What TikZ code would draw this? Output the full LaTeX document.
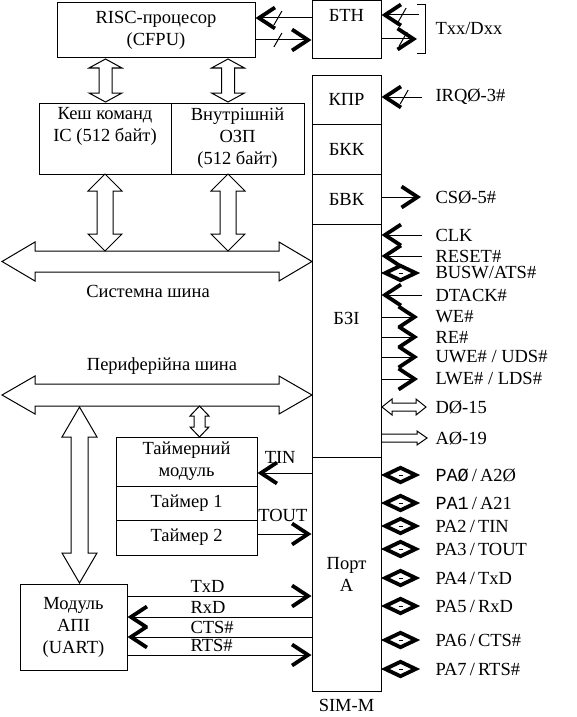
\documentclass[tikz,border=0pt]{standalone}
\usepackage{fontspec}
\setmainfont{Liberation Serif}
\setmonofont{Liberation Mono}
\usepackage{tikz}
\usetikzlibrary{arrows.meta, shapes.geometric, decorations.markings}

\tikzset{
  blk/.style={draw, inner sep=0pt, align=center},
  sig/.style={anchor=west, inner sep=0pt},
  barb/.style={-{Straight Barb[length=16pt, width=21pt, line width=3.8pt].}},
  tick/.style={postaction={decorate, decoration={markings,
      mark=at position #1 with {\draw[-] (-4pt,-7pt) -- (4pt,7pt);}}}},
  pin/.style={diamond, draw, aspect=2, line width=3.8pt, minimum width=32pt, minimum height=16pt, inner sep=0pt},
}

\begin{document}
\begin{tikzpicture}[x=1pt, y=-1pt, line width=1pt, font=\fontsize{18.5}{22}\selectfont]
\useasboundingbox (0,0) rectangle (577,717);

% processor, cache and RAM
\node[blk, minimum width=198pt, minimum height=55pt] (risc) at (156,30.5) {RISC-процесор\\(CFPU)};
\node[blk, minimum width=69pt, minimum height=58pt] (btn) at (346.5,30) {БТН\\\strut};
\node[blk, minimum width=132pt, minimum height=71pt] (cache) at (105,138.5) {Кеш команд\\IC (512 байт)\\\strut};
\node[blk, minimum width=133pt, minimum height=71pt] (ram) at (237.5,138.5) {Внутрішній\\ОЗП\\(512 байт)};

% SIM-M column
\node[blk, minimum width=69pt, minimum height=49pt] (kpr) at (346.5,99.5) {КПР};
\node[blk, minimum width=69pt, minimum height=50pt] (bkk) at (346.5,149) {БКК};
\node[blk, minimum width=69pt, minimum height=50pt] (bvk) at (346.5,199) {БВК};
\node[blk, minimum width=69pt, minimum height=233pt] (bzi) at (346.5,340.5) {};
\node[blk, minimum width=69pt, minimum height=234pt] (port) at (346.5,574) {Порт\\А};
\node (bzil) at (346.5,318) {БЗІ};
\node (simm) at (346.5,705) {SIM-M};

% timers and UART
\node[blk, minimum width=141pt, minimum height=49pt] (tmod) at (186.5,461.5) {Таймерний\\модуль};
\node[blk, minimum width=141pt, minimum height=34pt] (tm1) at (186.5,503) {Таймер 1};
\node[blk, minimum width=141pt, minimum height=35pt] (tm2) at (186.5,537.5) {Таймер 2};
\node[blk, minimum width=107pt, minimum height=86pt] (uart) at (73.5,627) {Модуль\\АПІ\\(UART)};

% system bus
\draw (2,261.5) -- (35,242) -- (35,251) -- (279,251) -- (279,242) -- (312,261.5) -- (279,281) -- (279,272) -- (35,272) -- (35,281) -- cycle;
\node (sbusl) at (148,291) {Системна шина};
% peripheral bus
\draw (2,395) -- (35,376) -- (35,384) -- (279,384) -- (279,376) -- (312,395) -- (279,414) -- (279,406) -- (35,406) -- (35,414) -- cycle;
\node (pbusl) at (162,366) {Периферійна шина};

% wide two-way arrows
\draw (105.5,59) -- (122,68) -- (112,68) -- (112,93) -- (122,93) -- (105.5,102) -- (89,93) -- (99,93) -- (99,68) -- (89,68) -- cycle;
\draw (228,59) -- (244.5,68) -- (234.5,68) -- (234.5,93) -- (244.5,93) -- (228,102) -- (211.5,93) -- (221.5,93) -- (221.5,68) -- (211.5,68) -- cycle;
\draw (105,174) -- (122,191) -- (113,191) -- (113,234) -- (122,234) -- (105,251) -- (88,234) -- (97,234) -- (97,191) -- (88,191) -- cycle;
\draw (228,174) -- (245,191) -- (236,191) -- (236,234) -- (245,234) -- (228,251) -- (211,234) -- (220,234) -- (220,191) -- (211,191) -- cycle;
\draw (199.5,406) -- (209,416) -- (205,416) -- (205,427) -- (209,427) -- (199.5,437) -- (190,427) -- (194,427) -- (194,416) -- (190,416) -- cycle;
\draw (79.5,407) -- (97,437) -- (88,437) -- (88,553) -- (97,553) -- (79.5,583) -- (62,553) -- (71,553) -- (71,437) -- (62,437) -- cycle;

% RISC <-> BTN <-> Txx/Dxx
\draw[barb, tick=0.6] ([yshift=12pt]btn.west) -- ([yshift=12pt]btn.west -| risc.east);
\draw[barb, tick=0.4] ([yshift=-10pt]btn.west -| risc.east) -- ([yshift=-10pt]btn.west);
\node[sig] (txx) at (435,28) {Txx/Dxx};
\coordinate (txi) at (419,15);
\coordinate (txo) at (417,39);
\draw[barb, tick=0.45] (txi) -- (txi -| btn.east);
\draw[barb, tick=0.61] (txo -| btn.east) -- (txo);
\draw (417,5) -- (425,5) -- (425,54) -- (417,54);

% KPR, BVK
\node[sig] (irq) at (435,97) {IRQØ-3\#};
\draw[barb, tick=0.44] ([xshift=-13pt]irq.west) -- (irq.west -| kpr.east);
\node[sig] (cs) at (435,197) {CSØ-5\#};
\draw[barb] (cs.west -| bvk.east) -- ([xshift=-14pt]cs.west);

% BZI signals
\node[sig] (clk) at (435,235) {CLK};
\draw[barb] ([xshift=-13pt]clk.west) -- (clk.west -| bzi.east);
\node[sig] (rst) at (435,256) {RESET\#};
\draw[barb] ([xshift=-13pt]rst.west) -- (rst.west -| bzi.east);
\node[sig] (busw) at (435,273) {BUSW/ATS\#};
\node[pin] (pbusw) at (400.5,273) {\rule{4pt}{0.8pt}};
\node[sig] (dtack) at (435,295) {DTACK\#};
\draw[barb] ([xshift=-13pt]dtack.west) -- (dtack.west -| bzi.east);
\node[sig] (we) at (435,317) {WE\#};
\draw[barb] (we.west -| bzi.east) -- ([xshift=-17pt]we.west);
\node[sig] (re) at (435,337) {RE\#};
\draw[barb] (re.west -| bzi.east) -- ([xshift=-17pt]re.west);
\node[sig] (uwe) at (435,357) {UWE\# / UDS\#};
\draw[barb] (uwe.west -| bzi.east) -- ([xshift=-17pt]uwe.west);
\node[sig] (lwe) at (435,379) {LWE\# / LDS\#};
\draw[barb] (lwe.west -| bzi.east) -- ([xshift=-17pt]lwe.west);
\draw (382,407) -- (392,399) -- (392,403) -- (416,403) -- (416,399) -- (426,407) -- (416,415) -- (416,411) -- (392,411) -- (392,415) -- cycle;
\node[sig] (dsig) at (435,407) {DØ-15};
\draw (381,434) -- (417,434) -- (417,431) -- (427,438) -- (417,445) -- (417,442) -- (381,442);
\node[sig] (asig) at (435,438) {AØ-19};

% port A pins
\node[pin] (p0) at (400.5,475) {\rule{4pt}{0.8pt}};
\node[sig] (pa0) at (435,475) {{\ttfamily PAØ}\,/\,A2Ø};
\node[pin] (p1) at (400.5,503) {\rule{4pt}{0.8pt}};
\node[sig] (pa1) at (435,503) {{\ttfamily PA1}\,/\,A21};
\node[pin] (p2) at (400.5,526) {\rule{4pt}{0.8pt}};
\node[sig] (pa2) at (435,526) {PA2\,/\,TIN};
\node[pin] (p3) at (400.5,549) {\rule{4pt}{0.8pt}};
\node[sig] (pa3) at (435,549) {PA3\,/\,TOUT};
\node[pin] (p4) at (400.5,578) {\rule{4pt}{0.8pt}};
\node[sig] (pa4) at (435,578) {PA4\,/\,TxD};
\node[pin] (p5) at (400.5,606) {\rule{4pt}{0.8pt}};
\node[sig] (pa5) at (435,606) {PA5\,/\,RxD};
\node[pin] (p6) at (400.5,640) {\rule{4pt}{0.8pt}};
\node[sig] (pa6) at (435,640) {PA6\,/\,CTS\#};
\node[pin] (p7) at (400.5,669) {\rule{4pt}{0.8pt}};
\node[sig] (pa7) at (435,669) {PA7\,/\,RTS\#};

% timer and UART lines
\draw[barb] ([yshift=-11.5pt]tmod.east -| port.west) -- node[pos=0.58, above=9pt, inner sep=0pt] (tin) {TIN} ([yshift=-11.5pt]tmod.east);
\draw[barb] ([yshift=3.5pt]tm2.east) -- node[pos=0.47, above=12pt, inner sep=0pt] (tout) {TOUT} ([yshift=3.5pt]tm2.east -| port.west);
\draw[barb] ([yshift=31pt]uart.east) -- node[pos=0.34, anchor=south west, inner sep=0pt, yshift=3pt] (txd) {TxD} ([yshift=31pt]uart.east -| port.west);
\draw[barb] ([yshift=10pt]uart.east -| port.west) -- node[pos=0.66, anchor=south west, inner sep=0pt, yshift=3pt] (rxd) {RxD} ([yshift=10pt]uart.east);
\draw[barb] ([yshift=-10pt]uart.east -| port.west) -- node[pos=0.66, anchor=south west, inner sep=0pt, yshift=3pt] (cts) {CTS\#} ([yshift=-10pt]uart.east);
\draw[barb] ([yshift=-28pt]uart.east) -- node[pos=0.34, anchor=south west, inner sep=0pt, yshift=3pt] (rts) {RTS\#} ([yshift=-28pt]uart.east -| port.west);
\end{tikzpicture}
\end{document}
